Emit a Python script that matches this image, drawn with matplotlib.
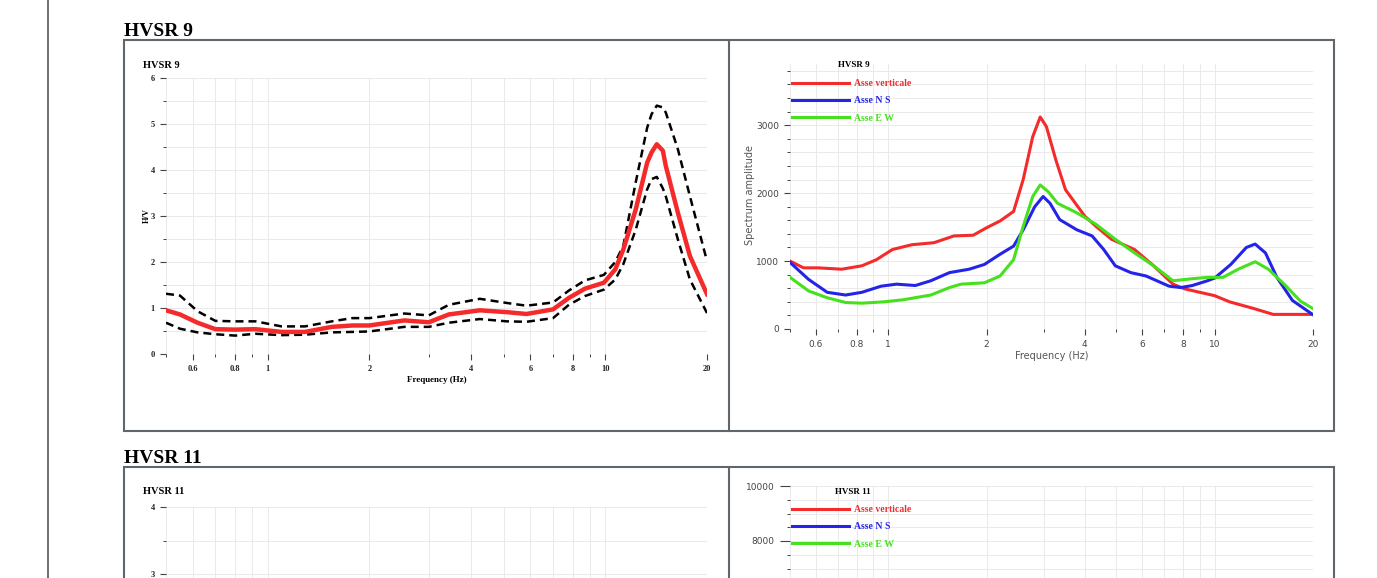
import numpy as np
import matplotlib.pyplot as plt
from matplotlib.patches import Rectangle
from matplotlib.lines import Line2D
from matplotlib.ticker import MultipleLocator, FixedLocator, NullFormatter

# --- HVSR 9 : rapport H/V (moyenne et écart) ---
freq_hv = [0.5, 0.55, 0.62, 0.7, 0.8, 0.92, 1.1, 1.29, 1.55, 1.78, 2.0, 2.54,
           3.0, 3.44, 4.25, 5.1, 5.84, 7.0, 7.8, 8.7, 9.9, 10.7, 11.3, 12.3,
           13.3, 13.7, 14.2, 14.8, 15.1, 16.4, 17.8, 20.0]
hv_mean = [0.95, 0.86, 0.68, 0.54, 0.53, 0.54, 0.48, 0.48, 0.59, 0.62, 0.62, 0.73,
           0.69, 0.86, 0.95, 0.91, 0.87, 0.97, 1.22, 1.42, 1.55, 1.84, 2.27, 3.14,
           4.16, 4.38, 4.56, 4.42, 4.09, 3.07, 2.13, 1.30]
hv_upper = [1.31, 1.27, 0.93, 0.72, 0.71, 0.71, 0.60, 0.60, 0.71, 0.78, 0.78, 0.88,
            0.84, 1.07, 1.20, 1.11, 1.05, 1.12, 1.38, 1.60, 1.72, 2.00, 2.35, 3.73,
            4.92, 5.21, 5.40, 5.36, 5.25, 4.45, 3.43, 2.02]
hv_lower = [0.68, 0.55, 0.47, 0.43, 0.40, 0.44, 0.41, 0.42, 0.47, 0.48, 0.49, 0.59,
            0.59, 0.68, 0.76, 0.71, 0.70, 0.78, 1.07, 1.26, 1.40, 1.62, 1.95, 2.70,
            3.58, 3.80, 3.85, 3.60, 3.43, 2.49, 1.62, 0.89]

# --- HVSR 9 : spectres par composante ---
freq_v = [0.5, 0.55, 0.61, 0.72, 0.83, 0.92, 1.03, 1.18, 1.38, 1.59, 1.82, 2.0,
          2.2, 2.42, 2.59, 2.77, 2.92, 3.05, 3.26, 3.49, 4.0, 4.33, 4.83, 5.68,
          6.5, 7.45, 8.1, 9.0, 10.0, 11.1, 13.2, 15.1, 17.3, 20.0]
amp_v = [1000, 900, 900, 880, 930, 1020, 1170, 1240, 1270, 1370, 1380, 1490,
         1590, 1730, 2200, 2830, 3120, 2980, 2490, 2050, 1660, 1510, 1320, 1170,
         930, 660, 590, 540, 490, 400, 300, 215, 215, 215]
freq_ns = [0.5, 0.57, 0.65, 0.74, 0.83, 0.95, 1.06, 1.21, 1.35, 1.54, 1.77, 1.97,
           2.2, 2.42, 2.59, 2.81, 2.98, 3.13, 3.35, 3.78, 4.21, 4.57, 4.96, 5.53,
           6.16, 7.25, 7.87, 8.54, 9.5, 10.0, 11.2, 12.5, 13.3, 14.3, 15.5, 17.3, 20.0]
amp_ns = [980, 730, 540, 500, 540, 630, 660, 640, 710, 830, 880, 950,
          1100, 1220, 1460, 1800, 1950, 1850, 1610, 1460, 1370, 1170, 930, 830,
          780, 630, 610, 640, 710, 750, 950, 1200, 1250, 1120, 760, 420, 210]
freq_ew = [0.5, 0.57, 0.65, 0.74, 0.83, 0.97, 1.11, 1.35, 1.54, 1.67, 1.97, 2.2,
           2.42, 2.59, 2.77, 2.92, 3.09, 3.3, 3.78, 4.33, 4.96, 5.68, 6.5, 7.45,
           8.54, 9.5, 10.6, 11.8, 13.3, 14.6, 16.4, 18.3, 20.0]
amp_ew = [760, 560, 460, 390, 380, 400, 430, 500, 610, 660, 680, 780,
          1020, 1510, 1950, 2120, 2020, 1850, 1710, 1540, 1320, 1120, 930, 710,
          740, 760, 760, 880, 990, 880, 650, 410, 300]

freq_ticks = [0.6, 0.8, 1, 2, 4, 6, 8, 10, 20]
freq_labels = ['0.6', '0.8', '1', '2', '4', '6', '8', '10', '20']
freq_minor = [0.5, 0.7, 0.9, 3, 5, 7, 9]
comp_names = ['Asse verticale', 'Asse N S', 'Asse E W']
comp_colors = ['#f52a2a', '#2424e8', '#46e01e']

W, H = 1377, 578
SERIF = 'Liberation Serif'
SANS = 'DejaVu Sans'


def box(x0, y0, x1, y1):
    # coins en pixels (origine en haut a gauche) -> [left, bottom, width, height]
    return [x0/W, 1 - y1/H, (x1 - x0)/W, (y1 - y0)/H]


def freq_axis(ax, bold_serif):
    ax.set_xscale('log')
    ax.set_xlim(0.5, 20)
    for s in ax.spines.values():
        s.set_visible(False)
    if bold_serif:
        kw = dict(fontfamily=SERIF, fontweight='bold', fontsize=6, color='#222222')
    else:
        kw = dict(fontfamily=SANS, fontsize=6.5, color='#444444')
    ax.set_xticks(freq_ticks, freq_labels, **kw)
    ax.xaxis.set_minor_locator(FixedLocator(freq_minor))
    ax.xaxis.set_minor_formatter(NullFormatter())
    ax.grid(which='both', color='#e6e6e6', lw=0.6)
    ax.set_axisbelow(True)
    ax.tick_params(which='major', length=4, width=0.8, color='#444444', pad=4)
    ax.tick_params(which='minor', length=2.5, width=0.7, color='#444444')
    return kw


fig = plt.figure(figsize=(W/100, H/100), dpi=100)

# page: marge gauche et cadres
fig.add_artist(Line2D([48/W, 48/W], [0, 1], color='#555555', lw=1.2))
for y0, y1 in [(40, 431), (467, 640)]:
    fig.add_artist(Rectangle((124/W, 1 - y1/H), 1210/W, (y1 - y0)/H, fill=False,
                             ec='#60676c', lw=1.5, transform=fig.transFigure))
    fig.add_artist(Line2D([729/W, 729/W], [1 - y1/H, 1 - y0/H], color='#60676c', lw=1.5))
fig.text(124/W, 1 - 36/H, 'HVSR 9', fontfamily=SERIF, fontweight='bold', fontsize=14)
fig.text(124/W, 1 - 463/H, 'HVSR 11', fontfamily=SERIF, fontweight='bold', fontsize=14)

# --- HVSR 9, H/V ---
ax1 = fig.add_axes(box(166, 78, 707, 354))
kw1 = freq_axis(ax1, True)
ax1.set_ylim(0, 6)
ax1.set_yticks(range(7), [str(v) for v in range(7)], **kw1)
ax1.yaxis.set_minor_locator(MultipleLocator(0.5))
ax1.plot(freq_hv, hv_upper, color='black', lw=1.8, dashes=(3.2, 2))
ax1.plot(freq_hv, hv_lower, color='black', lw=1.8, dashes=(3.2, 2))
ax1.plot(freq_hv, hv_mean, color='#f52a2a', lw=3.2)
ax1.set_xlabel('Frequency (Hz)', fontfamily=SERIF, fontweight='bold', fontsize=6.5)
ax1.xaxis.set_label_coords(0.501, -0.094)
ax1.xaxis.label.set_va('center')
ax1.set_ylabel('H/V', fontfamily=SERIF, fontweight='bold', fontsize=6)
ax1.yaxis.set_label_coords(-0.035, 0.5)
ax1.yaxis.label.set_va('center')
fig.text(143/W, 1 - 65/H, 'HVSR 9', fontfamily=SERIF, fontweight='bold',
         fontsize=7.5, va='center')

# --- HVSR 9, spectres ---
ax2 = fig.add_axes(box(790, 64, 1313, 329))
kw2 = freq_axis(ax2, False)
ax2.set_ylim(0, 3900)
ax2.set_yticks([0, 1000, 2000, 3000], ['0', '1000', '2000', '3000'], **kw2)
ax2.yaxis.set_minor_locator(MultipleLocator(200))
for f, a, c, n in zip([freq_v, freq_ns, freq_ew], [amp_v, amp_ns, amp_ew],
                      comp_colors, comp_names):
    ax2.plot(f, a, color=c, lw=2.2, label=n)
ax2.set_xlabel('Frequency (Hz)', fontfamily=SANS, fontsize=7, color='#555555')
ax2.xaxis.set_label_coords(0.501, -0.102)
ax2.xaxis.label.set_va('center')
ax2.set_ylabel('Spectrum amplitude', fontfamily=SANS, fontsize=7, color='#555555')
ax2.yaxis.set_label_coords(-0.076, 0.506)
ax2.yaxis.label.set_va('center')
fig.text(838/W, 1 - 65/H, 'HVSR 9', fontfamily=SERIF, fontweight='bold',
         fontsize=6.5, va='center')


def legend(ax, top):
    leg = ax.legend(loc='upper left', bbox_to_anchor=(792/W, 1 - top/H),
                    bbox_transform=fig.transFigure, frameon=False,
                    prop=dict(family=SERIF, weight='bold', size=7),
                    handlelength=5.9, handletextpad=0.5, labelspacing=0.85,
                    borderpad=0, borderaxespad=0)
    for t, ln in zip(leg.get_texts(), leg.get_lines()):
        t.set_color(ln.get_color())


legend(ax2, 79)

# --- HVSR 11 (coupé en bas de page : seule la partie haute est visible) ---
ax3 = fig.add_axes(box(166, 507, 707, 578))
kw3 = freq_axis(ax3, True)
ax3.set_ylim(4 - (578 - 507) / 67, 4)
ax3.set_yticks([3, 4], ['3', '4'], **kw3)
ax3.yaxis.set_minor_locator(MultipleLocator(0.5))
ax3.tick_params(axis='x', which='both', bottom=False, labelbottom=False)
fig.text(143/W, 1 - 492/H, 'HVSR 11', fontfamily=SERIF, fontweight='bold',
         fontsize=7.5, va='center')

ax4 = fig.add_axes(box(790, 486, 1313, 578))
kw4 = freq_axis(ax4, False)
ax4.set_ylim(10000 - (578 - 486) / 275 * 10000, 10000)
ax4.set_yticks([8000, 10000], ['8000', '10000'], **kw4)
ax4.yaxis.set_minor_locator(MultipleLocator(500))
ax4.tick_params(axis='y', which='major', length=7)
ax4.tick_params(axis='x', which='both', bottom=False, labelbottom=False)
for c, n in zip(comp_colors, comp_names):
    ax4.plot([], [], color=c, lw=2.2, label=n)
fig.text(835/W, 1 - 492/H, 'HVSR 11', fontfamily=SERIF, fontweight='bold',
         fontsize=6.5, va='center')
legend(ax4, 505)

fig.savefig('out.png', dpi=100)
